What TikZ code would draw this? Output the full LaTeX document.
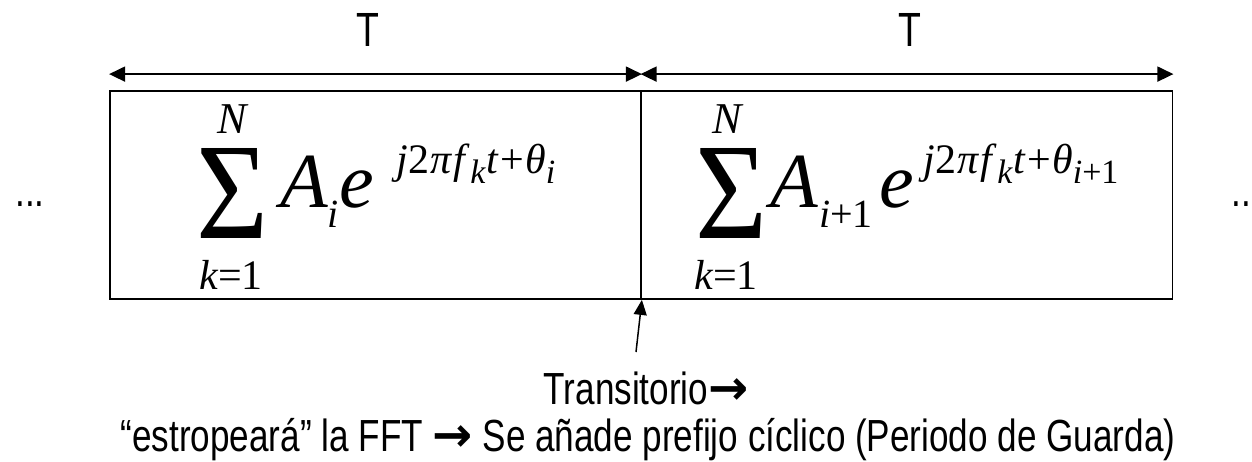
\documentclass[tikz,border=0pt]{standalone}
\usepackage{fontspec}
\usepackage{graphicx}
\setmainfont{Liberation Serif}
\newfontfamily\tms{Liberation Serif}
\newfontfamily\narrowsans[FakeStretch=0.78]{Liberation Sans}
\newfontfamily\dvsans{DejaVu Sans}
\usetikzlibrary{arrows.meta}
\newcommand\fsz[1]{\fontsize{#1}{#1}\selectfont}
\newcommand\expo[1]{\tms\textit{j}\kern1pt2\kern1pt\textit{π}\kern1pt\textit{f}\raisebox{-10pt}{\fsz{34}\textit{k}}\kern1pt\textit{t}\kern1pt+\kern1pt\textit{θ}\raisebox{-10pt}{\fsz{34}#1}}
\newcommand\bigarrow{{\dvsans\bfseries\fsz{48}→}}
\begin{document}
\begin{tikzpicture}[x=1pt,y=-1pt,
  frame/.style={draw, line width=1.8pt, minimum width=531pt, minimum height=208pt, inner sep=0pt},
  lbl/.style={inner sep=0pt, anchor=base, font=\narrowsans\fsz{45}},
  mth/.style={inner sep=0pt, anchor=base west},
  lim/.style={inner sep=0pt, anchor=base, font=\tms\fsz{42}},
  dim/.style={line width=1.8pt, {Triangle[length=16pt,width=15pt]}-{Triangle[length=16pt,width=15pt]}},
  ptr/.style={line width=1.5pt, -{Triangle[length=15pt,width=13pt]}}]
\clip (0,0) rectangle (1252,462);
\fill[white] (0,0) rectangle (1252,462);
% boxes
\node[frame] (b1) at (375.5,195) {};
\node[frame] (b2) at (907,195) {};
% period arrows
\draw[dim] ([yshift=16pt]b1.north west) -- ([yshift=16pt]b1.north east);
\draw[dim] ([yshift=16pt]b2.north west) -- ([yshift=16pt]b2.north east);
\node[lbl, font=\narrowsans\fsz{48}] (T1) at (368,47) {T};
\node[lbl, font=\narrowsans\fsz{48}] (T2) at (910,47) {T};
% dots
\node[lbl] (d1) at (30,207) {...};
\node[lbl] (d2) at (1246,207) {...};
% left formula
\node[inner sep=0pt] (s1) at (232,193) {\tms\resizebox{72pt}{90pt}{Σ}};
\node[lim, font=\tms\fsz{44}\itshape] (n1) at (232,134) {N};
\node[lim] (k1) at (231,289) {\textit{k}=1};
\node[mth, font=\tms\fsz{78}\itshape] (a1) at (280,208) {A};
\node[mth, font=\tms\fsz{40}\itshape] (ai1) at (327,228) {i};
\node[mth, font=\tms\fsz{78}\itshape] (e1) at (339,208) {e};
\node[mth, font=\tms\fsz{42}] (x1) at (396,174) {\expo{\textit{i}}};
% right formula
\node[inner sep=0pt] (s2) at (731,193) {\tms\resizebox{72pt}{90pt}{Σ}};
\node[lim, font=\tms\fsz{44}\itshape] (n2) at (727,134) {N};
\node[lim] (k2) at (726,289) {\textit{k}=1};
\node[mth, font=\tms\fsz{78}\itshape] (a2) at (770,208) {A};
\node[mth, font=\tms\fsz{40}] (ai2) at (819,228) {\textit{i}+1};
\node[mth, font=\tms\fsz{78}\itshape] (e2) at (879,208) {e};
\node[mth, font=\tms\fsz{42}] (x2) at (923,174) {\expo{\textit{i}+1}};
% transition pointer
\coordinate (tail) at (636,352);
\draw[ptr] (tail) -- (b1.south east);
\node[lbl] (tr) at (646,404) {Transitorio\bigarrow};
\node[lbl] (note) at (648,451) {“estropeará” la FFT \bigarrow{} Se añade prefijo cíclico (Periodo de Guarda)};
\end{tikzpicture}
\end{document}
